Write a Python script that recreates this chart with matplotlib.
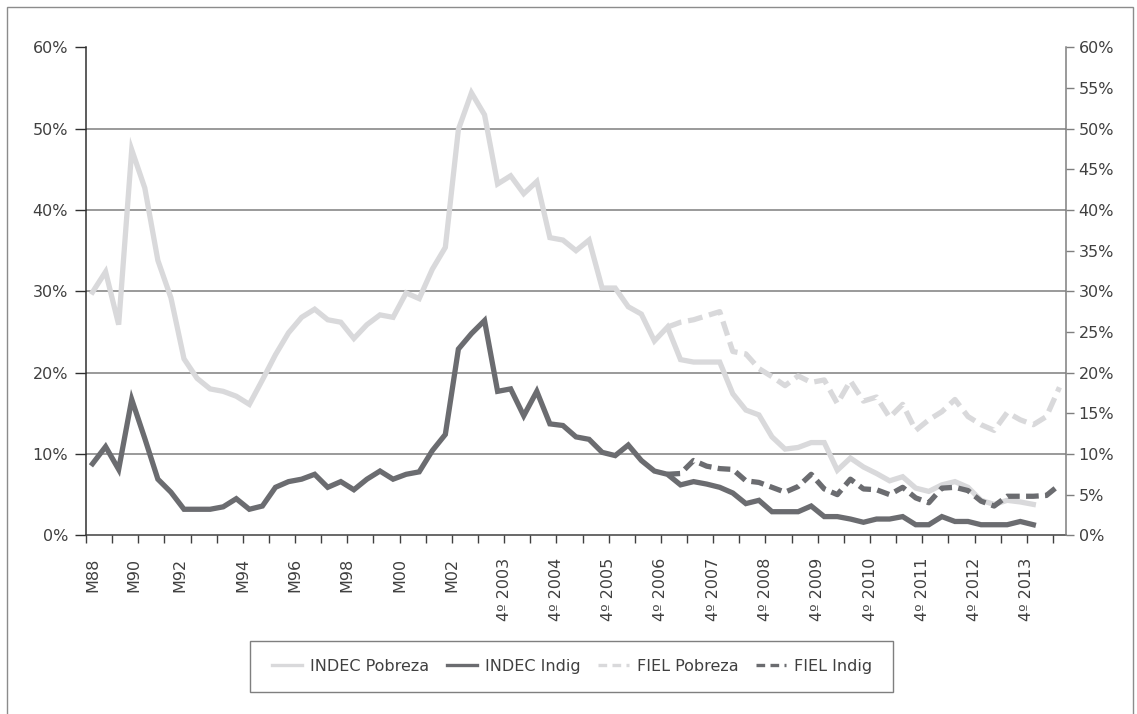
import matplotlib
matplotlib.use("Agg")
import matplotlib.pyplot as plt
from matplotlib.lines import Line2D
from matplotlib.patches import Rectangle
from matplotlib.ticker import FixedLocator, NullFormatter, FuncFormatter

# ---------------- data ----------------
# semiannual waves (May / October) 1988-2003, then quarters 3º 2003 .. 2º 2014
categories = [f"{p}{y % 100:02d}" for y in range(1988, 2003) for p in ("M", "O")] + ["M03"]
categories += ["3º 2003", "4º 2003"]
categories += [f"{q}º {y}" for y in range(2004, 2014) for q in (1, 2, 3, 4)]
categories += ["1º 2014", "2º 2014"]

indec_pobreza = [29.9, 32.4, 25.9, 47.4, 42.7, 33.8, 29.2, 21.7, 19.3, 18.0,
                 17.7, 17.1, 16.1, 19.1, 22.2, 24.9, 26.8, 27.8, 26.5, 26.2,
                 24.2, 25.9, 27.1, 26.8, 29.8, 29.1, 32.7, 35.4, 49.9, 54.4,
                 51.7, 43.2, 44.2, 42.0, 43.5, 36.6, 36.3, 35.0, 36.3, 30.4,
                 30.4, 28.1, 27.2, 23.9, 25.6, 21.6, 21.3, 21.3, 21.3, 17.4,
                 15.4, 14.8, 12.1, 10.6, 10.8, 11.4, 11.4, 8.0, 9.5, 8.4,
                 7.6, 6.7, 7.2, 5.8, 5.4, 6.2, 6.6, 5.9, 4.3, 3.8,
                 4.3, 4.1, 3.8]
indec_indig = [8.8, 10.9, 8.1, 16.7, 11.9, 6.9, 5.3, 3.2, 3.2, 3.2,
               3.5, 4.5, 3.2, 3.6, 5.9, 6.6, 6.9, 7.5, 5.9, 6.6,
               5.6, 6.9, 7.9, 6.9, 7.5, 7.8, 10.4, 12.4, 22.9, 24.8,
               26.4, 17.7, 18.0, 14.7, 17.7, 13.7, 13.5, 12.1, 11.8, 10.2,
               9.8, 11.1, 9.2, 7.9, 7.5, 6.2, 6.6, 6.3, 5.9, 5.2,
               3.9, 4.3, 2.9, 2.9, 2.9, 3.6, 2.3, 2.3, 2.0, 1.6,
               2.0, 2.0, 2.3, 1.3, 1.3, 2.3, 1.7, 1.7, 1.3, 1.3,
               1.3, 1.7, 1.3]
fiel_start = "4º 2006"
fiel_pobreza = [25.6, 26.2, 26.5, 27.0, 27.5, 22.6, 22.3, 20.5, 19.5, 18.4,
                19.6, 18.8, 19.1, 16.2, 19.0, 16.5, 17.0, 14.5, 16.1, 12.9,
                14.2, 15.2, 16.7, 14.6, 13.6, 12.9, 15.1, 14.2, 13.6, 14.6, 18.2]
fiel_indig = [7.5, 7.6, 9.2, 8.5, 8.2, 8.1, 6.7, 6.5, 5.9, 5.3,
              6.0, 7.5, 5.7, 5.0, 6.9, 5.7, 5.6, 5.0, 5.9, 4.6,
              4.0, 5.8, 5.9, 5.5, 4.2, 3.6, 4.8, 4.8, 4.8, 4.9, 6.2]

series_names = ["INDEC Pobreza", "INDEC Indig", "FIEL Pobreza", "FIEL Indig"]
label_every = 4
# small placement nudges of the first rotated labels (in category units)
label_nudge = {"M88": 0.5, "M90": -0.35, "M92": -0.8}

# ---------------- style ----------------
LIGHT = "#d9d9db"
DARK = "#6b6c70"
LW = 3.8
FS = 11.5
TXT = "#404040"

plt.rcParams["font.family"] = ["DejaVu Sans"]

fig = plt.figure(figsize=(11.37, 7.14), dpi=100)
fig.patch.set_facecolor("white")

# outer chart frame
fig.patches.append(Rectangle((7 / 1137, -0.05), (1133 - 7) / 1137, 1.05 - 7 / 714,
                             transform=fig.transFigure, fill=False,
                             edgecolor="#8c8c8c", linewidth=1.0))

ax = fig.add_axes([86 / 1137, 1 - 535.3 / 714, (1066 - 86) / 1137, (535.3 - 47.3) / 714])
n = len(categories)
x_all = list(range(n))
i0 = categories.index(fiel_start)

ax.plot(x_all[:len(indec_pobreza)], indec_pobreza, color=LIGHT, lw=LW,
        solid_joinstyle="miter", zorder=3)
ax.plot(x_all[:len(indec_indig)], indec_indig, color=DARK, lw=LW,
        solid_joinstyle="miter", zorder=4)
ax.plot(x_all[i0:i0 + len(fiel_pobreza)], fiel_pobreza, color=LIGHT, lw=LW,
        dashes=(2.8, 1.3), zorder=5)
ax.plot(x_all[i0:i0 + len(fiel_indig)], fiel_indig, color=DARK, lw=LW,
        dashes=(2.4, 1.2), zorder=6)

ax.set_xlim(-0.5, n - 0.5)
ax.set_ylim(0, 60)

# grid
for v in range(10, 60, 10):
    ax.axhline(v, color="#7f7f7f", lw=1.1, zorder=1)

# spines
ax.spines["top"].set_visible(False)
ax.spines["right"].set_visible(False)
ax.spines["left"].set_color("#303030")
ax.spines["bottom"].set_color("#404040")
ax.spines["left"].set_linewidth(1.1)
ax.spines["bottom"].set_linewidth(1.1)

# x ticks: marks every 2 categories (between categories), labels every 4
ax.xaxis.remove_overlapping_locs = False
ax.xaxis.set_major_locator(FixedLocator([b - 0.5 for b in range(0, n, 2)]))
ax.xaxis.set_major_formatter(NullFormatter())
ax.tick_params(axis="x", which="major", length=6, width=1.0, color="#404040", direction="out")
shown = categories[::label_every]
pos = [categories.index(c) - 0.5 + label_nudge.get(c, 0.0) for c in shown]
ax.xaxis.set_minor_locator(FixedLocator(pos))
ax.set_xticklabels(shown, minor=True, rotation=90, fontsize=FS, color=TXT, va="top", ha="center")
ax.tick_params(axis="x", which="minor", length=0, pad=16)

# left y axis
ax.set_yticks(range(0, 61, 10))
ax.yaxis.set_major_formatter(FuncFormatter(lambda v, p: f"{v:.0f}%"))
ax.tick_params(axis="y", length=8, width=1.0, color="#303030", direction="out",
               labelsize=FS, labelcolor=TXT, pad=5)

# right y axis
ax2 = ax.twinx()
ax2.set_ylim(0, 60)
ax2.set_yticks(range(0, 61, 5))
ax2.yaxis.set_major_formatter(FuncFormatter(lambda v, p: f"{v:.0f}%"))
ax2.tick_params(axis="y", length=6, width=1.0, color="#7f7f7f", direction="out",
                labelsize=FS, labelcolor=TXT, pad=3)
for s in ("top", "left", "bottom"):
    ax2.spines[s].set_visible(False)
ax2.spines["right"].set_color("#7f7f7f")
ax2.spines["right"].set_linewidth(1.1)

# legend
handles = [Line2D([], [], color=LIGHT, lw=2.4),
           Line2D([], [], color=DARK, lw=2.4),
           Line2D([], [], color=LIGHT, lw=2.4, dashes=(2.6, 1.6)),
           Line2D([], [], color=DARK, lw=2.4, dashes=(2.6, 1.6))]
fig.patches.append(Rectangle((250 / 1137, 1 - 692 / 714), 643 / 1137, 51 / 714,
                             transform=fig.transFigure, fill=False,
                             edgecolor="#7f7f7f", linewidth=1.0))
fig.legend(handles, series_names, loc="center", bbox_to_anchor=(572 / 1137, 1 - 666.5 / 714),
           ncol=4, frameon=False, fontsize=FS, handlelength=1.9, handletextpad=0.5,
           columnspacing=1.1, labelcolor=TXT)

fig.savefig("out.png", dpi=100, facecolor="white")
